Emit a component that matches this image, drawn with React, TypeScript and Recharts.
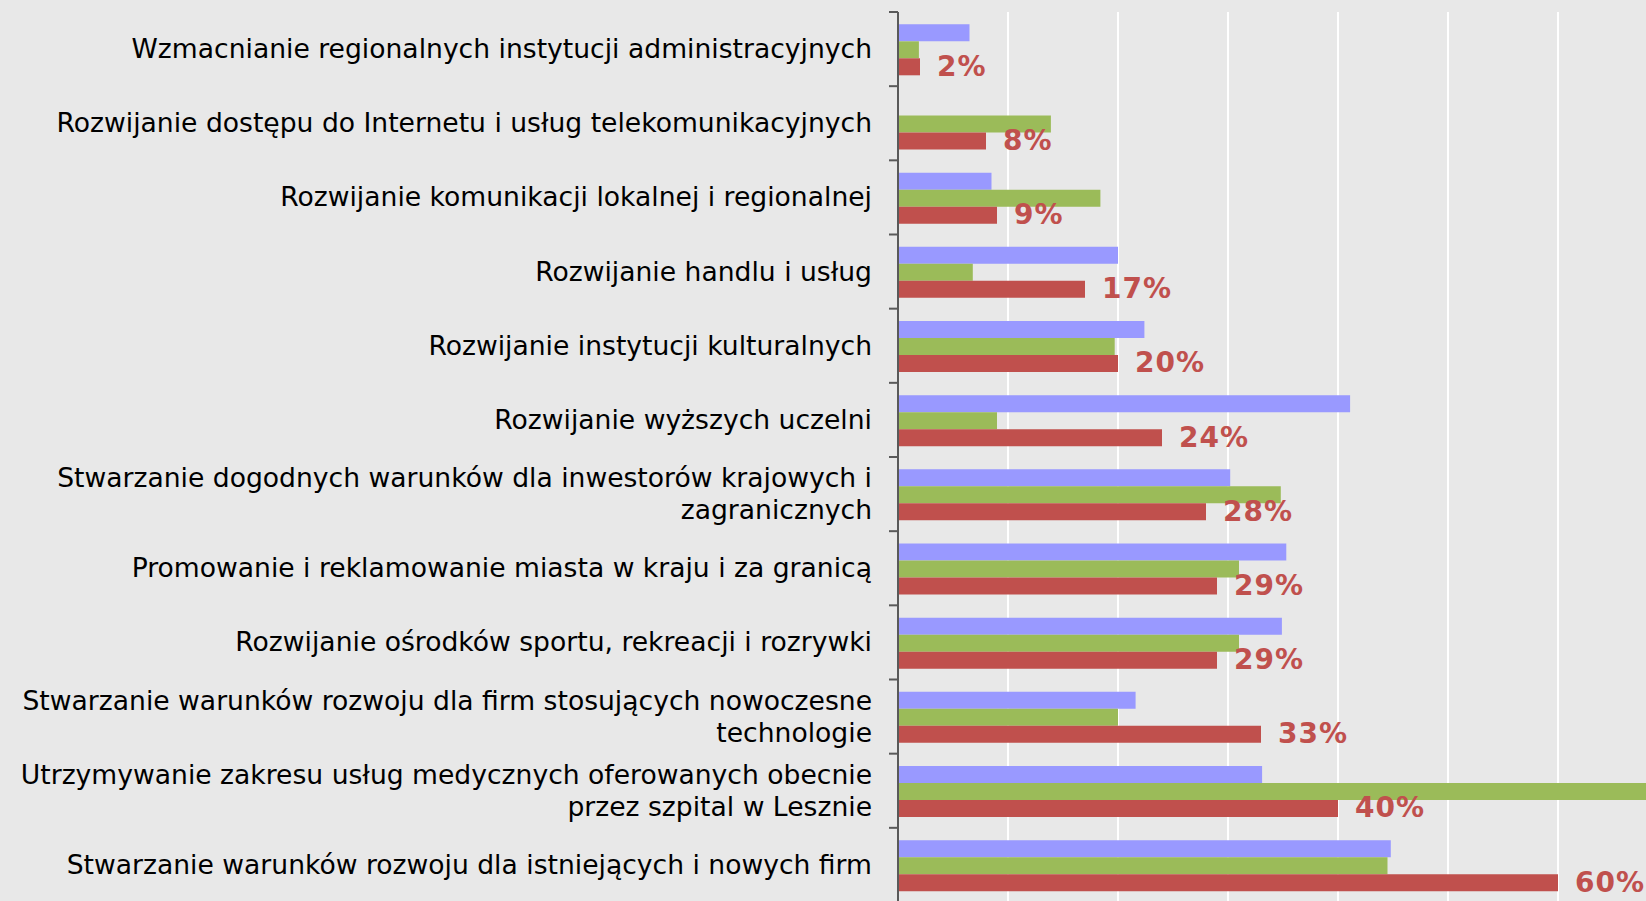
import React from "react";
import { BarChart, Bar, XAxis, YAxis, CartesianGrid, LabelList } from "recharts";

const categories: string[] = [
  "Wzmacnianie regionalnych instytucji administracyjnych",
  "Rozwijanie dostępu do Internetu i usług telekomunikacyjnych",
  "Rozwijanie komunikacji lokalnej i regionalnej",
  "Rozwijanie handlu i usług",
  "Rozwijanie instytucji kulturalnych",
  "Rozwijanie wyższych uczelni",
  "Stwarzanie dogodnych warunków dla inwestorów krajowych i\nzagranicznych",
  "Promowanie i reklamowanie miasta w kraju i za granicą",
  "Rozwijanie ośrodków sportu, rekreacji i rozrywki",
  "Stwarzanie warunków rozwoju dla firm stosujących nowoczesne\ntechnologie",
  "Utrzymywanie zakresu usług medycznych oferowanych obecnie\nprzez szpital w Lesznie",
  "Stwarzanie warunków rozwoju dla istniejących i nowych firm",
];

const seriesBlue: number[] = [6.5, 0, 8.5, 20, 22.4, 41.1, 30.2, 35.3, 34.9, 21.6, 33.1, 44.8];
const seriesGreen: number[] = [1.9, 13.9, 18.4, 6.8, 19.7, 9.0, 34.8, 31, 31, 20, 70, 44.5];
const seriesRed: number[] = [2, 8, 9, 17, 20, 24, 28, 29, 29, 33, 40, 60];

const xTicks: number[] = [0, 10, 20, 30, 40, 50, 60, 70];

const data = categories.map((name, i) => ({
  name,
  blue: seriesBlue[i],
  green: seriesGreen[i],
  red: seriesRed[i],
}));

const FONT = "'DejaVu Sans', Verdana, sans-serif";
const PLOT_TOP = 12;
const PLOT_H = 890;
const Y_W = 898;
const TICK_SIZE = 9;
const TICK_MARGIN = 17;
const BAND = PLOT_H / categories.length;

const CategoryTick = (props: any) => {
  const { x, y, payload, index } = props;
  const lines = String(payload.value).split("\n");
  const lh = 32;
  const axisX = x + TICK_MARGIN + TICK_SIZE;
  const startY = y - 1 - ((lines.length - 1) * lh) / 2;
  return (
    <g>
      <line x1={axisX - TICK_SIZE} x2={axisX} y1={y - BAND / 2} y2={y - BAND / 2} stroke="#595959" strokeWidth={2} />
      {index === categories.length - 1 && (
        <line x1={axisX - TICK_SIZE} x2={axisX} y1={y + BAND / 2} y2={y + BAND / 2} stroke="#595959" strokeWidth={2} />
      )}
      <text x={x} y={startY} textAnchor="end" dominantBaseline="central" fontFamily={FONT} fontSize={26.6} fill="#000">
        {lines.map((l, i) => (
          <tspan key={i} x={x} y={startY + i * lh}>
            {l}
          </tspan>
        ))}
      </text>
    </g>
  );
};

export default function App() {
  return (
    <div
      style={{
        position: "fixed",
        left: 0,
        top: 0,
        width: 1646,
        height: 901,
        overflow: "hidden",
        background: "#E8E8E8",
      }}
    >
      <BarChart
        width={1680}
        height={PLOT_TOP + PLOT_H + 8}
        data={data}
        layout="vertical"
        margin={{ top: PLOT_TOP, right: 12, bottom: 8, left: 0 }}
        barCategoryGap="16.6%"
        barGap={0}
      >
        <CartesianGrid horizontal={false} vertical={true} stroke="#FFFFFF" strokeWidth={2} />
        <XAxis type="number" domain={[0, 70]} ticks={xTicks} hide allowDataOverflow />
        <YAxis
          type="category"
          dataKey="name"
          width={Y_W}
          interval={0}
          tickSize={TICK_SIZE}
          tickMargin={TICK_MARGIN}
          tickLine={false}
          axisLine={{ stroke: "#595959", strokeWidth: 2 }}
          tick={<CategoryTick />}
        />
        <Bar dataKey="blue" fill="#9999FF" isAnimationActive={false} />
        <Bar dataKey="green" fill="#9BBB59" isAnimationActive={false} />
        <Bar dataKey="red" fill="#C0504D" isAnimationActive={false}>
          <LabelList
            dataKey="red"
            position="right"
            offset={17}
            formatter={(v: any) => `${v}%`}
            fill="#C0504D"
            fontFamily={FONT}
            fontWeight="bold"
            fontSize={28}
            letterSpacing={1}
            dy={-1}
          />
        </Bar>
      </BarChart>
    </div>
  );
}
